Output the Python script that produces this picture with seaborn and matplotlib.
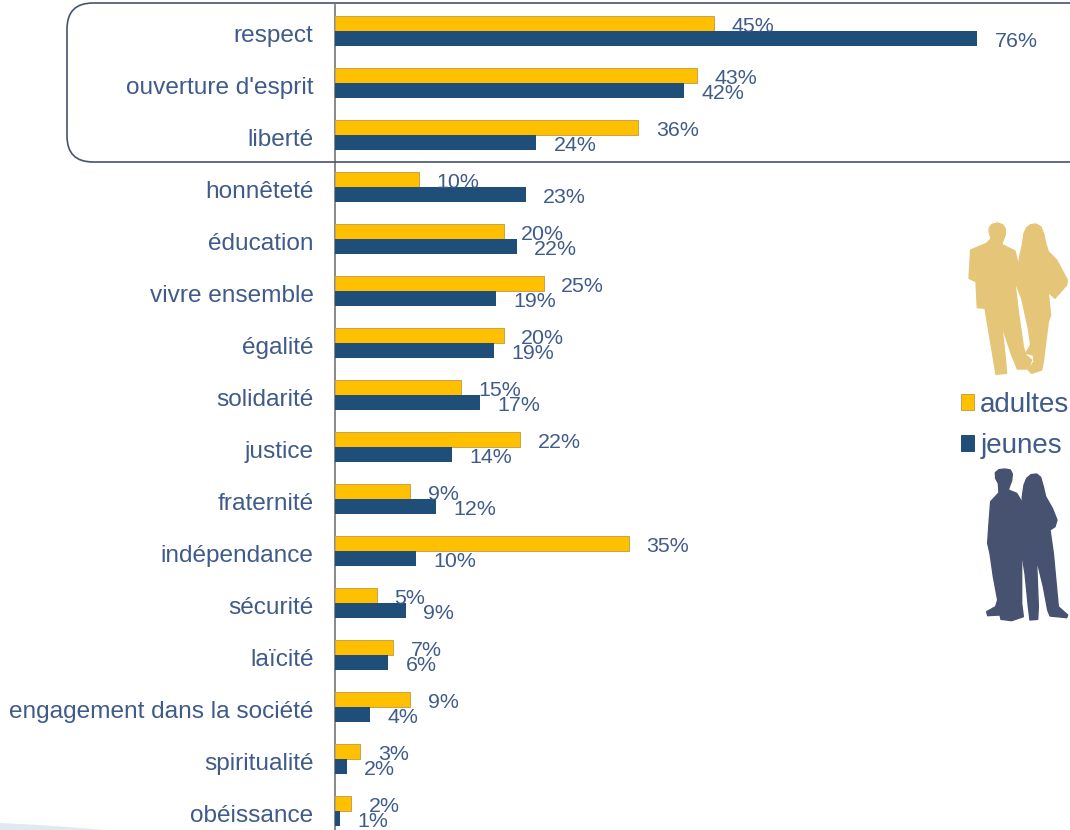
import matplotlib.pyplot as plt
import pandas as pd
import seaborn as sns
from matplotlib.patches import FancyBboxPatch, Patch, Polygon
from matplotlib.transforms import ScaledTranslation

W, H = 1070, 830

categories = ["respect", "ouverture d'esprit", "liberté", "honnêteté", "éducation",
              "vivre ensemble", "égalité", "solidarité", "justice", "fraternité",
              "indépendance", "sécurité", "laïcité", "engagement dans la société",
              "spiritualité", "obéissance"]
adultes = [44.9, 42.8, 35.9, 9.9, 20.0, 24.7, 20.0, 14.9, 21.9, 8.9, 34.8, 5.0, 6.9, 8.9, 3.0, 1.9]
jeunes = [76.0, 41.3, 23.8, 22.6, 21.5, 19.0, 18.8, 17.2, 13.8, 12.0, 9.6, 8.4, 6.3, 4.1, 1.4, 0.6]
adultes_labels = ["45%", "43%", "36%", "10%", "20%", "25%", "20%", "15%", "22%", "9%", "35%",
                  "5%", "7%", "9%", "3%", "2%"]
jeunes_labels = ["76%", "42%", "24%", "23%", "22%", "19%", "19%", "17%", "14%", "12%", "10%",
                 "9%", "6%", "4%", "2%", "1%"]

JAUNE = "#ffc000"
BLEU = "#1f4e79"
TEXTE = "#3f5b8a"


def px(x, y):
    # pixels of the image -> figure fraction
    return x / W, 1 - y / H


def silhouette(fig, points, origin, color):
    # outlines were read on 3x crops of the reference
    pts = [px(origin[0] + a / 3, origin[1] + b / 3) for a, b in points]
    fig.add_artist(Polygon(pts, closed=True, facecolor=color, edgecolor=color, linewidth=1.0,
                           joinstyle="round", transform=fig.transFigure))


df = pd.DataFrame({
    "valeur": categories * 2,
    "pct": adultes + jeunes,
    "groupe": ["adultes"] * len(categories) + ["jeunes"] * len(categories),
})

sns.set_theme(style="white")
plt.rcParams["font.family"] = ["Liberation Sans", "DejaVu Sans"]

fig = plt.figure(figsize=(W / 100, H / 100), dpi=100)
ax = fig.add_axes([335 / W, 0, (W - 335) / W, 1 - 5 / H])
ax.patch.set_alpha(0)

sns.barplot(data=df, y="valeur", x="pct", hue="groupe", order=categories,
            hue_order=["adultes", "jeunes"], palette=[JAUNE, BLEU], width=0.56,
            orient="h", legend=False, ax=ax, saturation=1, zorder=3)

ax.set_xlim(0, (W - 335) / 8.45)
ax.set_ylim((830 - 31) / 52, (5 - 31) / 52)
ax.set_xlabel("")
ax.set_ylabel("")
ax.set_xticks([])
ax.tick_params(axis="y", length=0, pad=15.5, labelsize=17.6, labelcolor=TEXTE)

sns.despine(ax=ax, top=True, right=True, bottom=True)
ax.spines["left"].set_color("#7f7f7f")
ax.spines["left"].set_linewidth(1.3)

# category names sit a little below the middle of their row
shift = ScaledTranslation(0, -2.5 / 100, fig.dpi_scale_trans)
for lab in ax.get_yticklabels():
    lab.set_transform(lab.get_transform() + shift)

for bar in ax.containers[0]:
    bar.set_edgecolor("#c9a24a")
    bar.set_linewidth(0.7)
for bar in ax.containers[1]:
    bar.set_linewidth(0)

for container, labels in zip(ax.containers, [adultes_labels, jeunes_labels]):
    texts = ax.bar_label(container, labels=labels, padding=12.5, fontsize=15.4, color=TEXTE,
                         zorder=4)
    for t in texts:
        t.xyann = (12.5, -2.2)

# rounded frame around the top three rows, runs off the right edge
fig.add_artist(FancyBboxPatch((67, H - 162), 1120 - 67, 159,
                              boxstyle="round,pad=0,rounding_size=26",
                              facecolor="none", edgecolor="#44546f", linewidth=1.2,
                              transform=None, zorder=5))

# pale swoosh bottom left
fig.add_artist(Polygon([px(0, 823), px(40, 825), px(108, 830), px(0, 830)], closed=True,
                       facecolor="#dfeaf0", edgecolor="none", transform=fig.transFigure))

# legend
handles = [Patch(facecolor=JAUNE, edgecolor="#c9a24a", linewidth=0.7, label="adultes"),
           Patch(facecolor=BLEU, edgecolor=BLEU, linewidth=0.7, label="jeunes")]
fig.legend(handles=handles, loc="upper left", bbox_to_anchor=px(958, 389), frameon=False,
           fontsize=20, labelcolor=TEXTE, handlelength=0.48, handleheight=0.48,
           handletextpad=0.22, labelspacing=0.55, borderpad=0.1, borderaxespad=0)

# adults
SABLE = "#e5c678"
silhouette(fig, [(92, 65), (87, 50), (88, 38), (96, 28), (112, 24), (128, 29), (136, 42), (136, 58),
                 (130, 75), (125, 88), (165, 108), (175, 150), (165, 205), (175, 290), (190, 395),
                 (197, 420), (215, 435), (205, 462), (172, 462), (155, 420), (125, 330),
                 (135, 420), (140, 475), (108, 478), (105, 460), (75, 280), (52, 278),
                 (48, 200), (27, 190), (32, 105), (80, 85), (92, 72)], (960, 215), SABLE)
silhouette(fig, [(180, 120), (187, 90), (192, 55), (200, 38), (212, 29), (228, 27), (243, 36),
                 (252, 60), (257, 85), (265, 110), (290, 135), (322, 195), (320, 210), (285, 250),
                 (268, 235), (262, 210), (272, 300), (265, 320), (250, 440), (245, 465),
                 (215, 475), (205, 465), (222, 440), (220, 420), (197, 415), (212, 390),
                 (205, 340), (185, 250), (165, 200), (175, 150)], (960, 215), SABLE)

# young people
ARDOISE = "#465270"
silhouette(fig, [(70, 70), (62, 55), (61, 38), (72, 29), (90, 27), (106, 30), (112, 42), (110, 62),
                 (105, 75), (100, 90), (125, 100), (140, 125), (150, 230), (140, 280), (140, 430),
                 (145, 470), (110, 482), (78, 478), (75, 465), (38, 467), (35, 455), (62, 440),
                 (68, 420), (55, 350), (45, 280), (38, 250), (42, 190), (47, 125),
                 (72, 98)], (975, 460), ARDOISE)
silhouette(fig, [(142, 110), (147, 75), (155, 55), (168, 44), (185, 42), (197, 52), (205, 80),
                 (212, 110), (232, 145), (246, 180), (240, 200), (225, 210), (235, 280),
                 (250, 440), (278, 465), (275, 473), (225, 468), (218, 450), (205, 380),
                 (188, 310), (185, 310), (190, 440), (188, 478), (165, 480), (160, 440),
                 (150, 340), (140, 280), (140, 150)], (975, 460), ARDOISE)

fig.savefig("out.png", dpi=100, facecolor="white")
